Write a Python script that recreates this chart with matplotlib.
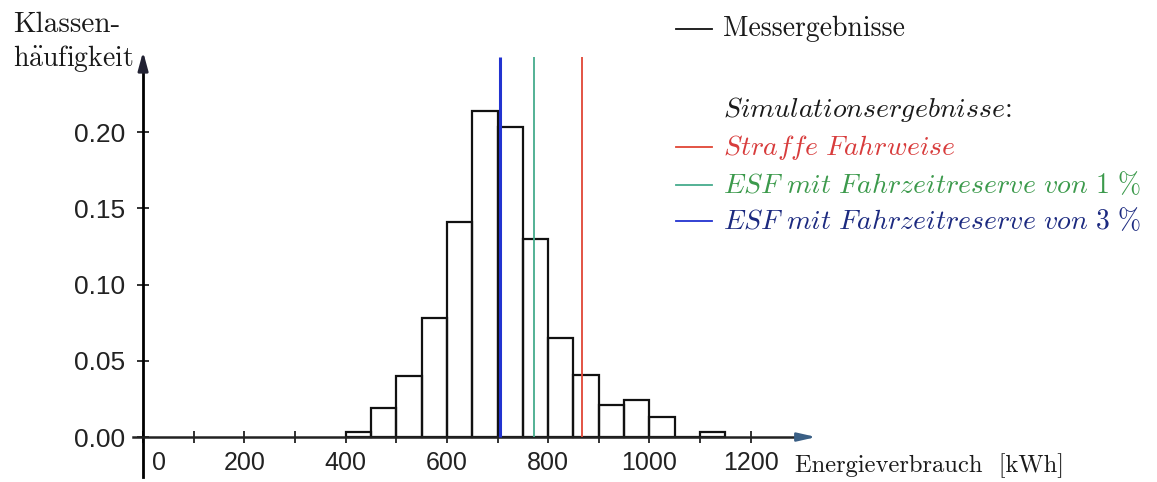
import matplotlib
matplotlib.use('Agg')
import matplotlib.pyplot as plt
from matplotlib.lines import Line2D
from matplotlib.transforms import ScaledTranslation

plt.rcParams['mathtext.fontset'] = 'cm'

# data: class frequencies of measured energy use, bins of 50 kWh
bin_left = [400, 450, 500, 550, 600, 650, 700, 750, 800, 850, 900, 950, 1000, 1050, 1100]
freq = [0.003, 0.019, 0.040, 0.078, 0.141, 0.214, 0.203, 0.130, 0.065, 0.041, 0.021, 0.024, 0.013, 0.0, 0.003]
bin_width = 50

# simulation results (vertical lines)
sim_labels = ['Straffe Fahrweise', 'ESF mit Fahrzeitreserve von 1 %', 'ESF mit Fahrzeitreserve von 3 %']
sim_values = [867, 773, 704]
sim_line_colors = ['#e04535', '#45ab8c', '#2233d0']
sim_text_colors = ['#d83c3c', '#3c9a4c', '#1c2a80']

x_ticks = list(range(0, 1300, 100))
y_ticks = [0.0, 0.05, 0.10, 0.15, 0.20]

W, H = 1157, 482
fig = plt.figure(figsize=(W / 100, H / 100), dpi=100)


def fx(px):
    return px / W


def fy(py):
    return 1 - py / H


ax = fig.add_axes([0.1149, 0.011, 0.5930, 0.8923])
ax.set_xlim(-20, 1335)
ax.set_ylim(-0.026, 0.256)

ax.bar(bin_left, freq, width=bin_width, align='edge', fill=False,
       edgecolor='#111111', linewidth=1.6, zorder=2)

for v, c in zip(sim_values, sim_line_colors):
    lw = 2.2 if c == '#2233d0' else 1.3
    ax.vlines(v, 0, 0.249, color=c, linewidth=lw, zorder=3)

# axes through the origin
for s in ['top', 'right']:
    ax.spines[s].set_visible(False)
ax.spines['left'].set_position(('data', 0))
ax.spines['bottom'].set_position(('data', 0))
ax.spines['left'].set_linewidth(2.0)
ax.spines['bottom'].set_linewidth(1.8)
ax.spines['bottom'].set_color('#222222')
ax.spines['left'].set_bounds(-0.026, 0.242)
ax.spines['bottom'].set_bounds(-20, 1300)

ax.annotate('', xy=(0, 0.2545), xytext=(0, 0.238),
            arrowprops=dict(arrowstyle='-|>,head_length=1.1,head_width=0.3',
                            color='#222233', lw=2.0))
ax.annotate('', xy=(1335, 0), xytext=(1290, 0),
            arrowprops=dict(arrowstyle='-|>,head_length=1.1,head_width=0.25',
                            color='#3a5f85', lw=1.8))

ax.set_xticks(x_ticks)
ax.set_xticklabels([str(t) if t % 200 == 0 else '' for t in x_ticks])
ax.set_yticks(y_ticks)
ax.set_yticklabels(['%.2f' % t for t in y_ticks])
ax.tick_params(axis='both', direction='inout', length=8, width=1.3,
               labelsize=18, color='#222222')
ax.tick_params(axis='x', pad=6)
ax.tick_params(axis='y', pad=9, labelsize=19)
for lab in ax.get_xticklabels() + ax.get_yticklabels():
    lab.set_fontfamily('Liberation Sans')
    lab.set_color('#222222')

# shift the "0" label right of the vertical axis
zero_lab = ax.get_xticklabels()[0]
zero_lab.set_transform(zero_lab.get_transform() +
                       ScaledTranslation(0.16, 0, fig.dpi_scale_trans))

serif_fam = ['cmr10', 'DejaVu Serif']
fig.text(fx(13), fy(25), 'Klassen-', va='center', ha='left',
         family=serif_fam, fontsize=21, color='#1a1a1a')
fig.text(fx(13), fy(59), r'h$\ddot{\mathrm{a}}$ufigkeit', va='center', ha='left',
         family=serif_fam, fontsize=20, color='#1a1a1a')
fig.text(fx(795), fy(466), 'Energieverbrauch  [kWh]', va='center', ha='left',
         family=serif_fam, fontsize=17.7, color='#1a1a1a')

# legend drawn by hand
leg_size = 20
fig.add_artist(Line2D([fx(676), fx(712)], [fy(29), fy(29)], color='#111111', lw=1.3))
fig.text(fx(723), fy(29), 'Messergebnisse', va='center', ha='left',
         family=serif_fam, fontsize=leg_size, color='#1a1a1a')
fig.text(fx(723), fy(110), r'$\mathit{Simulationsergebnisse}$:', va='center', ha='left',
         family=serif_fam, fontsize=leg_size, color='#1a1a1a')

leg_y = [147, 185, 221]
for lab, yy, lc, tc in zip(sim_labels, leg_y, sim_line_colors, sim_text_colors):
    fig.add_artist(Line2D([fx(676), fx(712)], [fy(yy), fy(yy)], color=lc, lw=1.3))
    txt = lab.replace('%', r'\%')
    parts = txt.split(' ')
    math = r'\ '.join(r'\mathrm{%s}' % p if p[0].isdigit() else r'\mathit{%s}' % p for p in parts)
    fig.text(fx(723), fy(yy), '$' + math + '$', va='center', ha='left',
             fontsize=leg_size, color=tc)

fig.savefig('out.png', dpi=100)
